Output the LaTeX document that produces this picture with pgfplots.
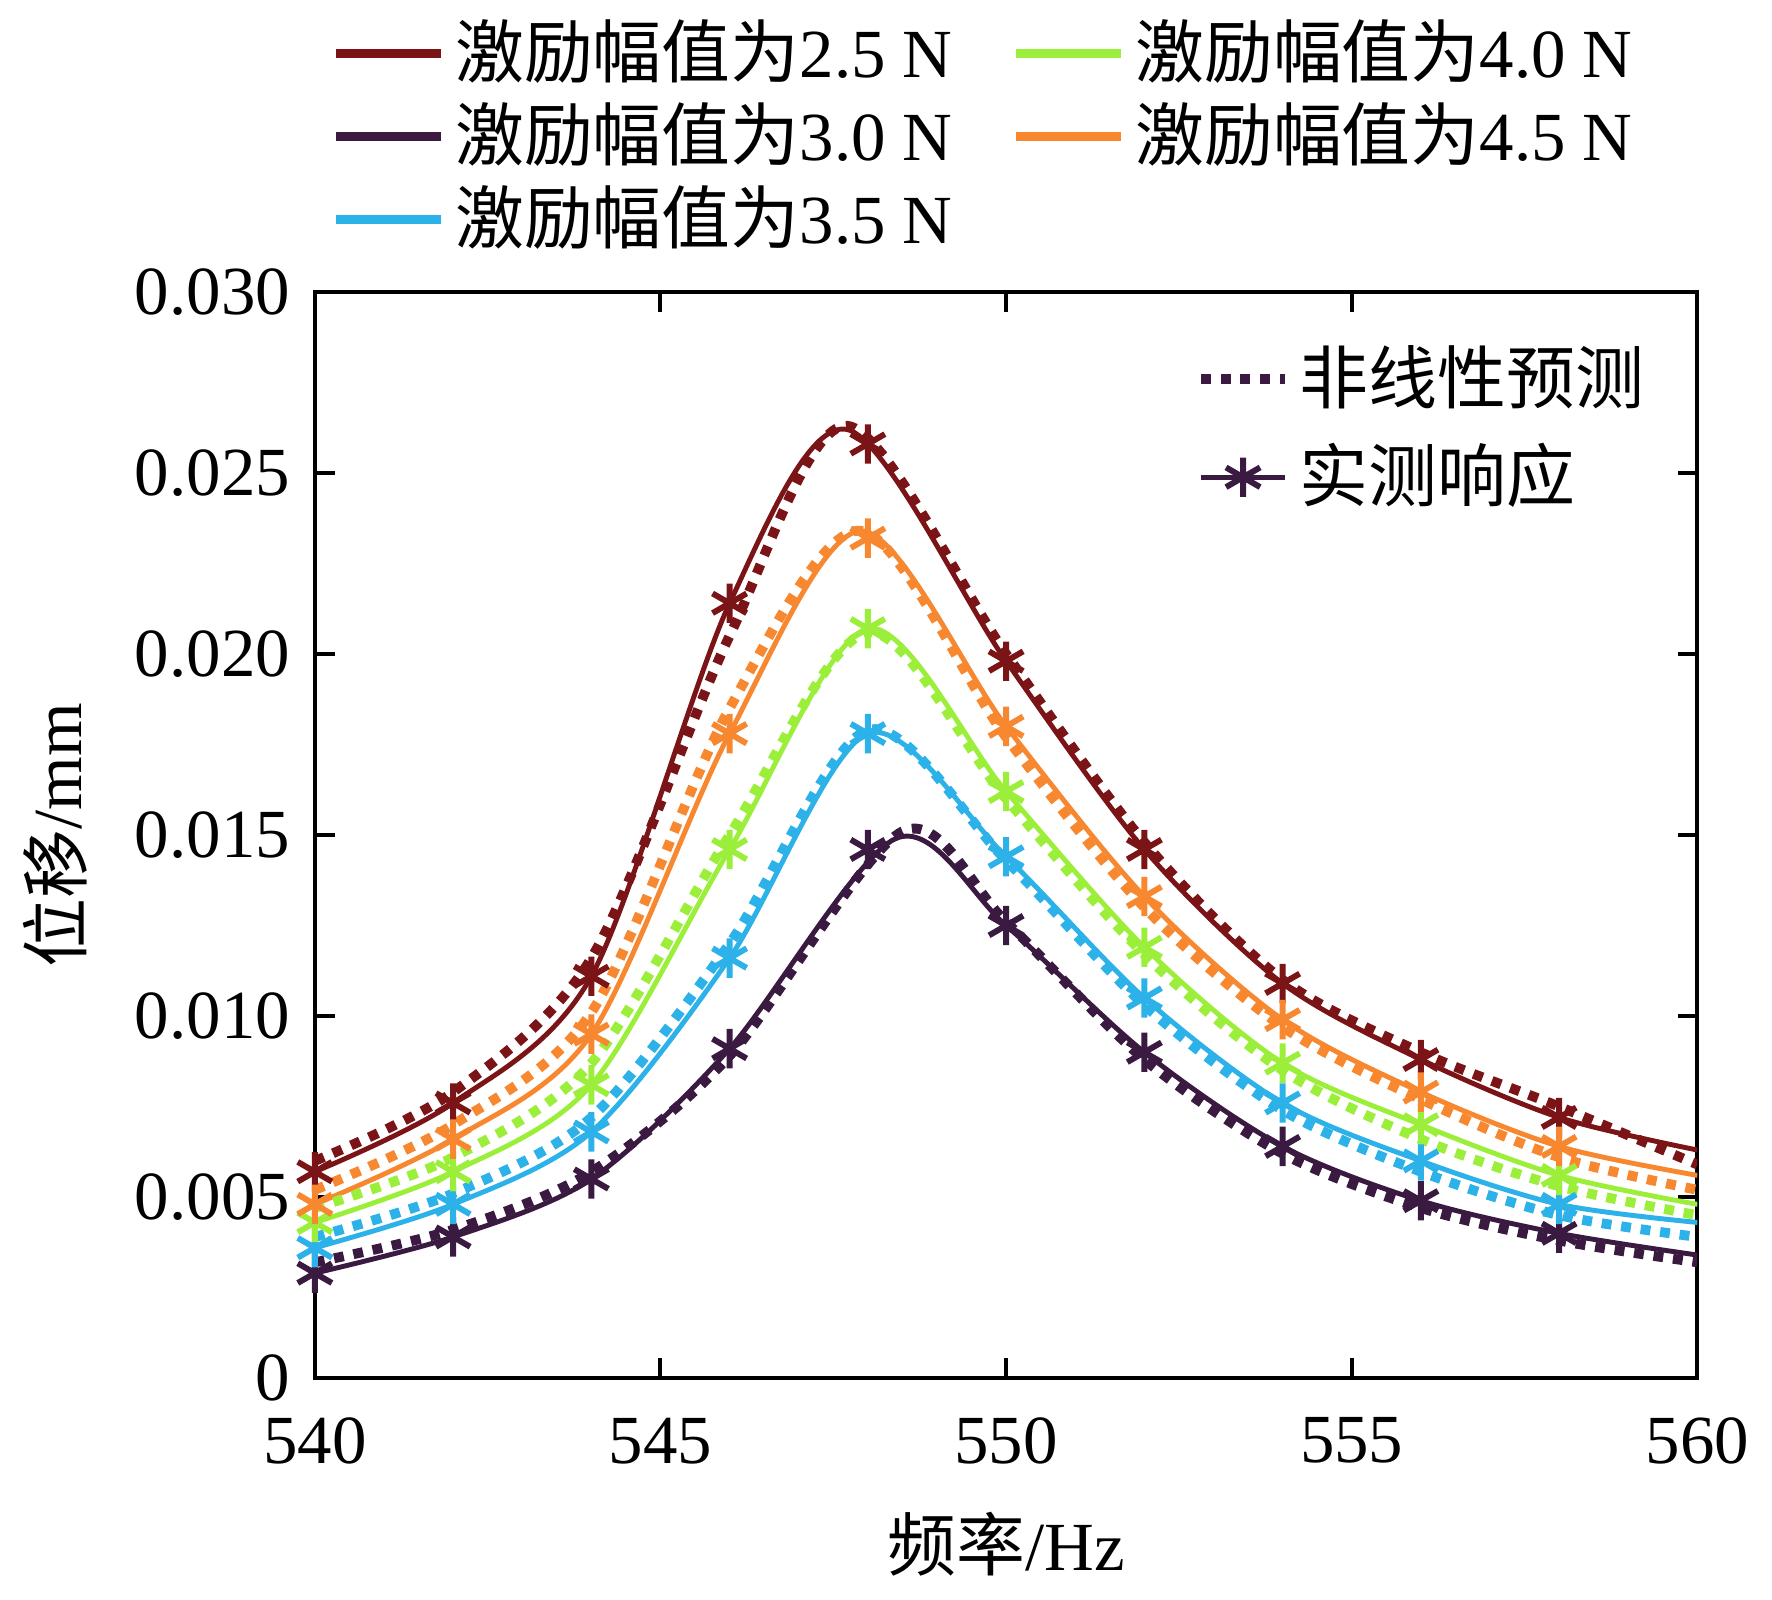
\documentclass[border=0pt]{standalone}
\usepackage{fontspec}
\setmainfont{Liberation Serif}
\newfontfamily\cjk{Noto Sans CJK SC}
\usepackage{pgfplots}
\pgfplotsset{compat=1.18}
\definecolor{cA}{HTML}{7B1416}
\definecolor{cB}{HTML}{3A1A40}
\definecolor{cC}{HTML}{2CB1E8}
\definecolor{cD}{HTML}{9BEF3A}
\definecolor{cE}{HTML}{F7882F}
\begin{document}
\fontsize{14}{16}\selectfont
\begin{tikzpicture}
\begin{axis}[
  width=280bp, height=220bp, scale only axis,
  xmin=540, xmax=560, ymin=0, ymax=0.030,
  xtick={540,545,...,560},
  ytick={0,0.005,0.010,0.015,0.020,0.025,0.030},
  yticklabels={0,0.005,0.010,0.015,0.020,0.025,0.030},
  /pgf/number format/assume math mode=true,
  tick align=inside, tick pos=both, major tick length=4pt,
  line width=0.8pt,
  tick style={line width=0.8pt,black},
  ticklabel style={font=\fontsize{14}{16}\selectfont},
  xticklabel style={yshift=-3pt},
  scaled y ticks=false,
  xlabel={{\cjk 频率}/Hz}, ylabel={{\cjk 位移}/mm},
  label style={font=\fontsize{14}{16}\selectfont},
  legend columns=2,
  legend style={at={(0,1.015)}, anchor=south west, draw=none, fill=none,
    font=\fontsize{14}{16}\selectfont, row sep=-1pt,
    /tikz/every even column/.append style={column sep=10pt}},
  legend cell align=left,
  legend image code/.code={\draw[#1, line width=1.8pt] (0cm,0cm) -- (0.75cm,0cm);},
]
\addplot[cA, line width=1pt, smooth, tension=0.5] coordinates {(540,0.0057)(542,0.0076)(544,0.0111)(546,0.0214)(547.7,0.0262)(550,0.0198)(552,0.0146)(554,0.0109)(556,0.0088)(558,0.0072)(560,0.0063)};
\addlegendentry{{\cjk 激励幅值为}2.5 N}
\addplot[cD, line width=1pt, smooth, tension=0.5] coordinates {(540,0.0043)(542,0.0057)(544,0.0081)(546,0.0146)(548,0.0207)(550,0.0162)(552,0.0119)(554,0.0087)(556,0.0070)(558,0.0056)(560,0.0048)};
\addlegendentry{{\cjk 激励幅值为}4.0 N}
\addplot[cB, line width=1pt, smooth, tension=0.5] coordinates {(540,0.0029)(542,0.0039)(544,0.0055)(546,0.0091)(548.4,0.0149)(550,0.0125)(552,0.0090)(554,0.0064)(556,0.0049)(558,0.0040)(560,0.0034)};
\addlegendentry{{\cjk 激励幅值为}3.0 N}
\addplot[cE, line width=1pt, smooth, tension=0.5] coordinates {(540,0.0048)(542,0.0066)(544,0.0095)(546,0.0178)(547.9,0.0234)(550,0.0180)(552,0.0133)(554,0.0099)(556,0.0079)(558,0.0064)(560,0.0056)};
\addlegendentry{{\cjk 激励幅值为}4.5 N}
\addplot[cC, line width=1pt, smooth, tension=0.5] coordinates {(540,0.0036)(542,0.0048)(544,0.0068)(546,0.0116)(548,0.0178)(550,0.0144)(552,0.0105)(554,0.0076)(556,0.0060)(558,0.0048)(560,0.0043)};
\addlegendentry{{\cjk 激励幅值为}3.5 N}
\pgfplotsset{every axis plot post/.append style={forget plot}}
\addplot[cA, line width=2pt, dotted, smooth, tension=0.5] coordinates {(540,0.0060)(542,0.0079)(544,0.0116)(546,0.0205)(547.7,0.0263)(550,0.0200)(552,0.0148)(554,0.0110)(556,0.0090)(558,0.0075)(560,0.0059)};
\addplot[cB, line width=2pt, dotted, smooth, tension=0.5] coordinates {(540,0.0032)(542,0.0041)(544,0.0057)(546,0.0089)(548.5,0.0151)(550,0.0126)(552,0.0088)(554,0.0062)(556,0.0047)(558,0.0038)(560,0.0032)};
\addplot[cC, line width=2pt, dotted, smooth, tension=0.5] coordinates {(540,0.0039)(542,0.0051)(544,0.0072)(546,0.0120)(548,0.0179)(550,0.0143)(552,0.0103)(554,0.0074)(556,0.0057)(558,0.0045)(560,0.0039)};
\addplot[cD, line width=2pt, dotted, smooth, tension=0.5] coordinates {(540,0.0047)(542,0.0061)(544,0.0087)(546,0.0150)(548,0.0206)(550,0.0160)(552,0.0117)(554,0.0085)(556,0.0066)(558,0.0053)(560,0.0045)};
\addplot[cE, line width=2pt, dotted, smooth, tension=0.5] coordinates {(540,0.0052)(542,0.0070)(544,0.0101)(546,0.0185)(547.9,0.0234)(550,0.0177)(552,0.0130)(554,0.0097)(556,0.0077)(558,0.0061)(560,0.0052)};
\pgfplotsset{every axis plot/.append style={only marks, mark=asterisk, mark size=4pt, mark options={line width=1.2pt}}}
\addplot[cA] coordinates {(540,0.0057)(542,0.0076)(544,0.0111)(546,0.0214)(548,0.0258)(550,0.0198)(552,0.0146)(554,0.0109)(556,0.0088)(558,0.0072)};
\addplot[cB] coordinates {(540,0.0029)(542,0.0039)(544,0.0055)(546,0.0091)(548,0.0146)(550,0.0125)(552,0.0090)(554,0.0064)(556,0.0049)(558,0.0040)};
\addplot[cC] coordinates {(540,0.0036)(542,0.0048)(544,0.0068)(546,0.0116)(548,0.0178)(550,0.0144)(552,0.0105)(554,0.0076)(556,0.0060)(558,0.0048)};
\addplot[cD] coordinates {(540,0.0043)(542,0.0057)(544,0.0081)(546,0.0146)(548,0.0207)(550,0.0162)(552,0.0119)(554,0.0087)(556,0.0070)(558,0.0056)};
\addplot[cE] coordinates {(540,0.0048)(542,0.0066)(544,0.0095)(546,0.0178)(548,0.0232)(550,0.0180)(552,0.0133)(554,0.0099)(556,0.0079)(558,0.0064)};
\end{axis}
\begin{axis}[
  width=280bp, height=220bp, scale only axis, hide axis,
  xmin=0, xmax=1, ymin=0, ymax=1,
  legend style={at={(0.98,0.97)}, anchor=north east, draw=none, fill=none,
    font=\fontsize{14}{16}\selectfont, row sep=2pt},
  legend cell align=left,
]
\addlegendimage{cB, line width=2pt, dotted}
\addlegendentry{\cjk 非线性预测}
\addlegendimage{cB, line width=1pt, mark=asterisk, mark size=4pt, mark options={line width=1.2pt}}
\addlegendentry{\cjk 实测响应}
\end{axis}
\end{tikzpicture}
\end{document}
